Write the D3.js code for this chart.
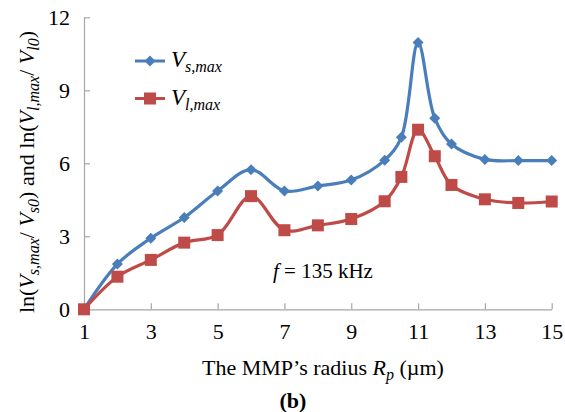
<!DOCTYPE html>
<html><head><meta charset="utf-8">
<script src="https://cdn.jsdelivr.net/npm/d3@7"></script>
<style>body{margin:0;background:#fff;}</style>
</head><body>
<svg id="c" width="565" height="412"></svg>
<script>
const xVals = [1,2,3,4,5,6,7,8,9,10,10.5,11,11.5,12,13,14,15];
const vsMax = [0,1.86,2.92,3.77,4.86,5.74,4.86,5.07,5.31,6.13,7.07,10.96,7.85,6.79,6.16,6.11,6.11];
const vlMax = [0,1.34,2.03,2.74,3.05,4.65,3.25,3.45,3.71,4.44,5.44,7.38,6.29,5.11,4.52,4.37,4.43];
const xTicks = [1,3,5,7,9,11,13,15];
const yTicks = [0,3,6,9,12];
const blue = "#4a7ebb", red = "#be4b48", axisCol = "#a6a6a6";
const FONT = "'Liberation Serif'";

const svg = d3.select("#c");
const x = d3.scaleLinear().domain([1,15]).range([84,551.7]);
const y = d3.scaleLinear().domain([0,12]).range([309.3,17.3]);

const xa = svg.append("g").attr("transform",`translate(0,${y(0)})`)
  .call(d3.axisBottom(x).tickValues(xTicks).tickSize(-6).tickSizeOuter(0).tickPadding(14).tickFormat(d3.format("d")));
const ya = svg.append("g").attr("transform",`translate(${x(1)},0)`)
  .call(d3.axisLeft(y).tickValues(yTicks).tickSize(-6).tickSizeOuter(0).tickPadding(14).tickFormat(d3.format("d")));
[xa,ya].forEach(a=>{
  a.attr("font-family",null).attr("font-size",null);
  a.selectAll("path,line").attr("stroke",axisCol).attr("stroke-width",1.2);
  a.selectAll("text").attr("fill","#000").style("font-family",FONT).style("font-size","22px");
});

const line = d3.line().x((d,i)=>x(xVals[i])).y(d=>y(d)).curve(d3.curveCatmullRom.alpha(0.5));
svg.append("path").datum(vsMax).attr("d",line).attr("fill","none").attr("stroke",blue).attr("stroke-width",3.2);
svg.append("path").datum(vlMax).attr("d",line).attr("fill","none").attr("stroke",red).attr("stroke-width",3.2);

const diamond = (cx,cy,r)=>`M${cx},${cy-r}L${cx+r},${cy}L${cx},${cy+r}L${cx-r},${cy}Z`;
svg.append("g").selectAll("path").data(vsMax).join("path")
  .attr("d",(d,i)=>diamond(x(xVals[i]),y(d),5.5)).attr("fill",blue);
svg.append("g").selectAll("rect").data(vlMax).join("rect")
  .attr("x",(d,i)=>x(xVals[i])-6).attr("y",d=>y(d)-6).attr("width",12).attr("height",12).attr("fill",red);

// legend
const lg = svg.append("g");
lg.append("line").attr("x1",135).attr("x2",165).attr("y1",61).attr("y2",61).attr("stroke",blue).attr("stroke-width",3);
lg.append("path").attr("d",diamond(150,61,5.5)).attr("fill",blue);
lg.append("line").attr("x1",135).attr("x2",165).attr("y1",98.5).attr("y2",98.5).attr("stroke",red).attr("stroke-width",3);
lg.append("rect").attr("x",144).attr("y",92.5).attr("width",12).attr("height",12).attr("fill",red);

function subText(g, parts){
  g.style("font-family",FONT);
  parts.forEach(p=>{
    const t = g.append("tspan").text(p.t);
    if(p.i) t.style("font-style","italic");
    if(p.s) t.style("font-size", p.s+"px");
    if(p.dy!==undefined) t.attr("dy", p.dy);
  });
}
const t1 = svg.append("text").attr("x",171).attr("y",67).style("font-size","23px");
subText(t1,[{t:"V",i:1},{t:"s,max",i:1,s:16,dy:5}]);
const t2 = svg.append("text").attr("x",171).attr("y",105).style("font-size","23px");
subText(t2,[{t:"V",i:1},{t:"l,max",i:1,s:16,dy:5}]);

// annotation
const ft = svg.append("text").attr("x",273).attr("y",278).style("font-size","21px");
subText(ft,[{t:"f",i:1},{t:" = 135 kHz"}]);

// x title
const xt = svg.append("text").attr("x",323).attr("y",375).attr("text-anchor","middle").style("font-size","22px");
subText(xt,[{t:"The MMP\u2019s radius "},{t:"R",i:1},{t:"p",i:1,s:16,dy:5},{t:" (\u00b5m)",dy:-5}]);

const bt = svg.append("text").attr("x",293).attr("y",408).attr("text-anchor","middle").style("font-weight","bold").style("font-size","22px");
subText(bt,[{t:"(b)"}]);

// y title
const yt = svg.append("text").attr("transform","translate(34,172) rotate(-90)").attr("text-anchor","middle").style("font-size","22px");
subText(yt,[{t:"ln("},{t:"V",i:1},{t:"s,max",i:1,s:16,dy:5},{t:"/ ",dy:-5},{t:"V",i:1},{t:"s0",i:1,s:16,dy:5},{t:") and ln(",dy:-5},
  {t:"V",i:1},{t:"l,max",i:1,s:16,dy:5},{t:"/ ",dy:-5},{t:"V",i:1},{t:"l0",i:1,s:16,dy:5},{t:")",dy:-5}]);
</script>
</body></html>
